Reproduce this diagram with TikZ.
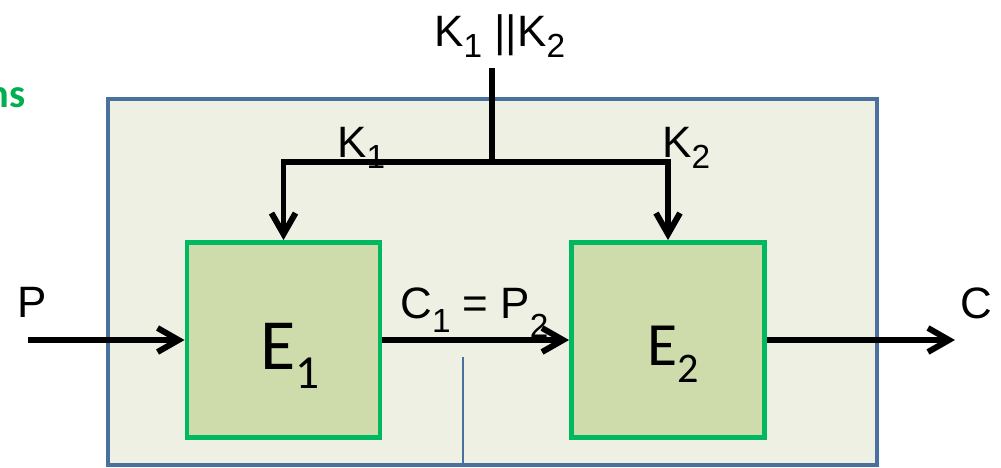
\documentclass[tikz,border=0pt]{standalone}
\usepackage{fontspec}
\setmainfont{Liberation Sans}
\newfontfamily\calibri{Carlito}
\usetikzlibrary{arrows.meta, positioning}
\definecolor{frameblue}{HTML}{4A719E}
\definecolor{framefill}{HTML}{EDF0E3}
\definecolor{boxgreen}{HTML}{00B860}
\definecolor{boxfill}{HTML}{CEDCAB}
\definecolor{titlegreen}{HTML}{00B050}
\newcommand{\lowsub}[3]{\raisebox{-#1}{\fontsize{#2}{#2}\selectfont #3}}

\begin{document}
\begin{tikzpicture}[
    x=0.02cm, y=-0.02cm,
    >={Straight Barb[length=4.2mm,width=4.8mm]},
    wire/.style={line width=3.4pt},
    cipher/.style={draw=boxgreen, fill=boxfill, line width=2.8pt, minimum width=3.86cm, minimum height=3.9cm, inner sep=0pt},
    lbl/.style={font=\fontsize{25}{30}\selectfont, inner sep=0pt, anchor=base west}
  ]
  \useasboundingbox (0,0) rectangle (1001,467);

  % Title (cut off)
  \node[font=\calibri\bfseries\fontsize{23}{26}\selectfont, text=titlegreen, anchor=base east, inner sep=0pt] (title) at (26,107) {ns};

  % Outer box
  \node[draw=frameblue, fill=framefill, line width=2.5pt, minimum width=15.38cm, minimum height=7.32cm] (frame) at (492.5,282) {};

  % Ciphers
  \node[cipher] (E1) at (283.5,340) {};
  \node[cipher] (E2) at (668,340) {};
  \node[lbl, font=\calibri\fontsize{41}{44}\selectfont] (E1text) at (260,369) {E\lowsub{0.38cm}{27}{1}};
  \node[lbl, font=\calibri\fontsize{35}{38}\selectfont] (E2text) at (647,365) {E\lowsub{0.34cm}{24}{2}};

  % Keys
  \node[lbl] (keys) at (434,46) {K\lowsub{0.22cm}{19}{1} ||K\lowsub{0.22cm}{19}{2}};
  \node[lbl] (K1) at (337,157) {K\lowsub{0.22cm}{19}{1}};
  \node[lbl] (K2) at (662,157) {K\lowsub{0.22cm}{19}{2}};
  \coordinate (top) at (492,68);
  \coordinate (split) at (492,162);
  \draw[wire] (top) -- (split);
  \draw[wire, ->] (split) -| (E1.north);
  \draw[wire, ->] (split) -| (E2.north);

  % Data path
  \node[lbl] (P) at (17,317) {P};
  \node[lbl] (C) at (960,318) {C};
  \node[lbl] (mid) at (400,318) {C\lowsub{0.28cm}{19}{1} = P\lowsub{0.38cm}{19}{2}};
  \coordinate (pin) at (28,340);
  \coordinate (cout) at (955,340);
  \draw[wire, ->] (pin) -- (E1.west);
  \draw[wire, ->] (E1.east) -- (E2.west);
  \draw[wire, ->] (E2.east) -- (cout);

  % Thin line
  \coordinate (t1) at (463,357);
  \draw[frameblue, line width=0.8pt] (t1) -- (t1 |- frame.south);
\end{tikzpicture}
\end{document}
